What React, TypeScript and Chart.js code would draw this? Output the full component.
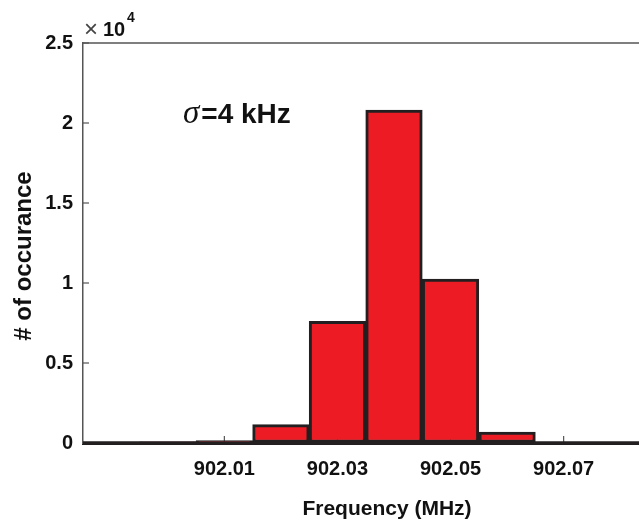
import React, { useEffect, useRef } from 'react';
import { Chart, registerables } from 'chart.js';

Chart.register(...registerables);

// Histogram bins (centre frequency in MHz) and counts
const binCenters = [901.99, 902.0, 902.01, 902.02, 902.03, 902.04, 902.05, 902.06, 902.07, 902.08, 902.09];
const counts = [30, 80, 150, 1150, 7600, 20800, 10250, 680, 40, 10, 0];
const xTickValues = [902.01, 902.03, 902.05, 902.07];
const yTickValues = [0, 5000, 10000, 15000, 20000, 25000];
const xMin = 901.985;
const xMax = 902.095;
const yMax = 25000;
const annotationText = '=4 kHz';
const sigma = 'σ';
const xTitle = 'Frequency (MHz)';
const yTitle = '# of occurance';

const SANS = "'Liberation Sans', Arial, sans-serif";

const decorPlugin = {
  id: 'decor',
  beforeDatasetsDraw(chart: any) {
    const { ctx, chartArea, scales } = chart;
    ctx.save();
    ctx.strokeStyle = '#555555';
    ctx.lineWidth = 1.5;
    ctx.beginPath();
    ctx.moveTo(chartArea.left, chartArea.top);
    ctx.lineTo(chartArea.right, chartArea.top);
    ctx.stroke();
    ctx.lineWidth = 1.2;
    for (const v of yTickValues) {
      const y = scales.y.getPixelForValue(v);
      ctx.beginPath();
      ctx.moveTo(chartArea.left, y);
      ctx.lineTo(chartArea.left + 6, y);
      ctx.stroke();
    }
    for (const v of xTickValues) {
      const x = scales.x.getPixelForValue(v);
      ctx.beginPath();
      ctx.moveTo(x, chartArea.bottom);
      ctx.lineTo(x, chartArea.bottom - 7);
      ctx.stroke();
    }
    ctx.restore();
  },
  afterDatasetsDraw(chart: any) {
    const { ctx, chartArea } = chart;
    ctx.save();
    ctx.strokeStyle = '#231F20';
    ctx.lineWidth = 3.5;
    ctx.beginPath();
    ctx.moveTo(chartArea.left, chartArea.bottom);
    ctx.lineTo(chartArea.right, chartArea.bottom);
    ctx.stroke();
    ctx.restore();
  },
  afterDraw(chart: any) {
    const { ctx, chartArea } = chart;
    ctx.save();
    // x10^4 exponent label
    ctx.textBaseline = 'alphabetic';
    ctx.textAlign = 'left';
    ctx.fillStyle = '#444444';
    ctx.font = `24px ${SANS}`;
    ctx.fillText('×', chartArea.left + 1, chartArea.top - 6);
    ctx.fillStyle = '#111111';
    ctx.font = `bold 20px ${SANS}`;
    ctx.fillText('10', chartArea.left + 20, chartArea.top - 7);
    ctx.font = `bold 14px ${SANS}`;
    ctx.fillText('4', chartArea.left + 44, chartArea.top - 21);
    // sigma annotation
    const bx = chartArea.left + 100;
    const by = chartArea.top + 80;
    ctx.font = `italic 33px 'Liberation Serif', 'DejaVu Serif', serif`;
    ctx.fillText(sigma, bx, by);
    const w = ctx.measureText(sigma).width;
    ctx.font = `bold 28px ${SANS}`;
    ctx.fillText(annotationText, bx + w + 2, by);
    // axis titles
    ctx.textAlign = 'center';
    ctx.textBaseline = 'middle';
    ctx.font = `bold 21px ${SANS}`;
    ctx.fillText(xTitle, chartArea.left + 304, chartArea.bottom + 66);
    ctx.translate(24, chartArea.top + 213);
    ctx.rotate(-Math.PI / 2);
    ctx.font = `bold 24px ${SANS}`;
    ctx.fillText(yTitle, 0, 0);
    ctx.restore();
  },
};

export default function App() {
  const canvasRef = useRef<HTMLCanvasElement | null>(null);

  useEffect(() => {
    const canvas = canvasRef.current;
    if (!canvas) return;
    const chart = new Chart(canvas, {
      type: 'bar',
      data: {
        datasets: [
          {
            data: binCenters.map((x, i) => ({ x, y: counts[i] })),
            backgroundColor: '#ED1C24',
            borderColor: '#231F20',
            borderWidth: 3,
            borderSkipped: false,
            barPercentage: 1,
            categoryPercentage: 1,
            grouped: false,
          } as any,
        ],
      },
      options: {
        animation: false,
        responsive: false,
        maintainAspectRatio: false,
        layout: { padding: { top: 43, left: 0, right: 1, bottom: 0 } },
        plugins: { legend: { display: false }, tooltip: { enabled: false } },
        scales: {
          x: {
            type: 'linear',
            min: xMin,
            max: xMax,
            offset: false,
            afterBuildTicks: (s: any) => {
              s.ticks = xTickValues.map((v) => ({ value: v }));
            },
            afterFit: (s: any) => {
              s.height = 82;
            },
            grid: { display: true, drawOnChartArea: false, drawTicks: false },
            border: { display: true, color: '#231F20', width: 3 },
            ticks: {
              padding: 14,
              autoSkip: false,
              maxRotation: 0,
              color: '#111111',
              font: { family: SANS, size: 20, weight: 'bold' },
              callback: (v: any) => Number(v).toFixed(2),
            },
          },
          y: {
            type: 'linear',
            min: 0,
            max: yMax,
            afterBuildTicks: (s: any) => {
              s.ticks = yTickValues.map((v) => ({ value: v }));
            },
            afterFit: (s: any) => {
              s.width = 83;
            },
            grid: { display: true, drawOnChartArea: false, drawTicks: false },
            border: { display: true, color: '#555555', width: 1.5 },
            ticks: {
              padding: 10,
              color: '#111111',
              font: { family: SANS, size: 20, weight: 'bold' },
              callback: (v: any) => String(Number(v) / 10000),
            },
          },
        },
      },
      plugins: [decorPlugin],
    });
    return () => chart.destroy();
  }, []);

  return (
    <div
      style={{
        position: 'fixed',
        left: 0,
        top: 0,
        width: 639,
        height: 525,
        overflow: 'hidden',
        background: '#ffffff',
      }}
    >
      <canvas ref={canvasRef} width={706} height={525} style={{ display: 'block', width: 706, height: 525 }} />
    </div>
  );
}
